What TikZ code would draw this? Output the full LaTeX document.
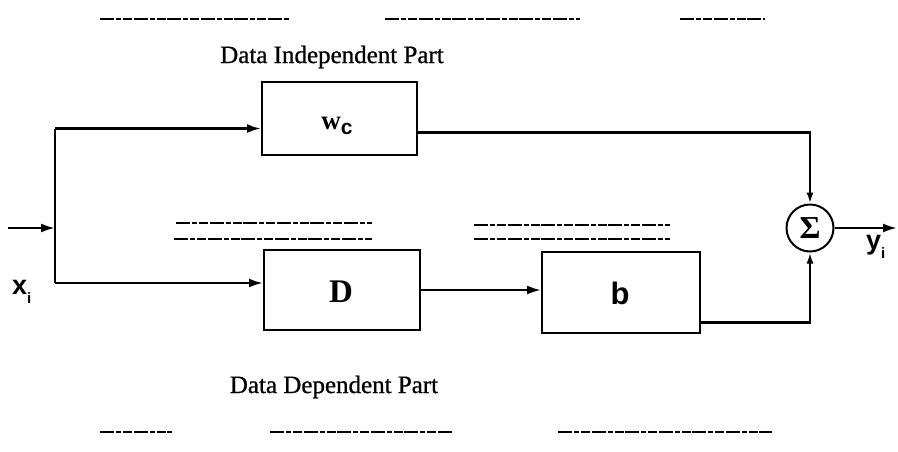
\documentclass[tikz,border=0pt]{standalone}
\usepackage{fontspec}
\setmainfont{Liberation Serif}
\newfontfamily\labelsans{Liberation Sans}
\newfontfamily\captionfont[FakeBold=0.8]{Liberation Serif}
\usetikzlibrary{arrows.meta,calc}
\tikzset{
  block/.style={draw, line width=2pt, rectangle, inner sep=0pt},
  wire/.style={line width=2.4pt},
  arr/.style={wire, -{Latex[length=14pt,width=9pt]}},
  smallarr/.style={wire, -{Latex[length=11pt,width=7pt]}},
  rule/.style={line width=1.4pt, dash pattern=on 14pt off 2pt on 5pt off 2pt on 9pt off 1.5pt},
  caption/.style={font=\captionfont\fontsize{25}{28}\selectfont, inner sep=0pt},
  sumnode/.style={draw, circle, line width=2pt, minimum size=47pt, inner sep=0pt,
                  font=\fontsize{32}{34}\selectfont\bfseries}
}
\begin{document}
\begin{tikzpicture}[x=1pt,y=-1pt]
  \useasboundingbox (0,0) rectangle (898,451);

  % horizontal rules above and below the diagram
  \draw[rule] (100,19) -- (290,19);
  \draw[rule] (385,19) -- (580,19);
  \draw[rule] (680,19) -- (765,19);
  \draw[rule] (100,432) -- (172,432);
  \draw[rule] (270,432) -- (452,432);
  \draw[rule] (558,432) -- (772,432);

  % separator between the two paths
  \draw[rule] (176,223) -- (372,223);
  \draw[rule] (174,239) -- (372,239);
  \draw[rule] (474,225) -- (670,225);
  \draw[rule] (474,239) -- (670,239);

  % captions
  \node[caption] (capind) at (332,57) {Data Independent Part};
  \node[caption] (capdep) at (334,387) {Data Dependent Part};

  % blocks
  \node[block, minimum width=155pt, minimum height=73pt] (wc) at (339.5,118.5) {};
  \node[font=\fontsize{27}{28}\selectfont\bfseries] (wclab) at (337,126) {w\raisebox{-5pt}{\fontsize{21}{22}\selectfont\labelsans\bfseries c}};
  \node[block, minimum width=156pt, minimum height=80pt] (D) at (342,290) {};
  \node[font=\fontsize{33}{34}\selectfont\bfseries] (Dlab) at (341,292) {D};
  \node[block, minimum width=158pt, minimum height=81pt] (bb) at (621,292.5) {};
  \node[font=\fontsize{31}{32}\selectfont\labelsans\bfseries] (blab) at (620,293) {b};
  \node[sumnode] (sum) at (810,228) {Σ};

  % terminals
  \coordinate (in) at (8,228);
  \coordinate (split) at (55,228);
  \coordinate (out) at (897,228);
  \node[font=\fontsize{27}{28}\selectfont\labelsans\bfseries, anchor=west, inner sep=0pt] (xlab) at (12,292) {x\raisebox{-9pt}{\fontsize{15}{16}\selectfont i}};
  \node[font=\fontsize{27}{28}\selectfont\labelsans\bfseries, anchor=west, inner sep=0pt] (ylab) at (866,247) {y\raisebox{-9pt}{\fontsize{15}{16}\selectfont i}};

  % connection points on the blocks
  \path (wc.west) ++(0,10) coordinate (wcin);
  \path (wc.east) ++(0,14) coordinate (wcout);
  \path (D.west) ++(0,-7) coordinate (Din);
  \path (bb.east) ++(0,30) coordinate (bout);

  % signal flow
  \draw[arr] (in) -- (split);
  \draw[wire] (split |- wcin) -- (split |- Din);
  \draw[arr] (split |- wcin) -- (wcin);
  \draw[arr] (split |- Din) -- (Din);
  \draw[arr] (D.east) -- (D.east -| bb.west);
  \draw[smallarr] (wcout) -| (sum.north);
  \draw[smallarr] (bout) -| (sum.south);
  \draw[arr] (sum.east) -- (out);
\end{tikzpicture}
\end{document}
